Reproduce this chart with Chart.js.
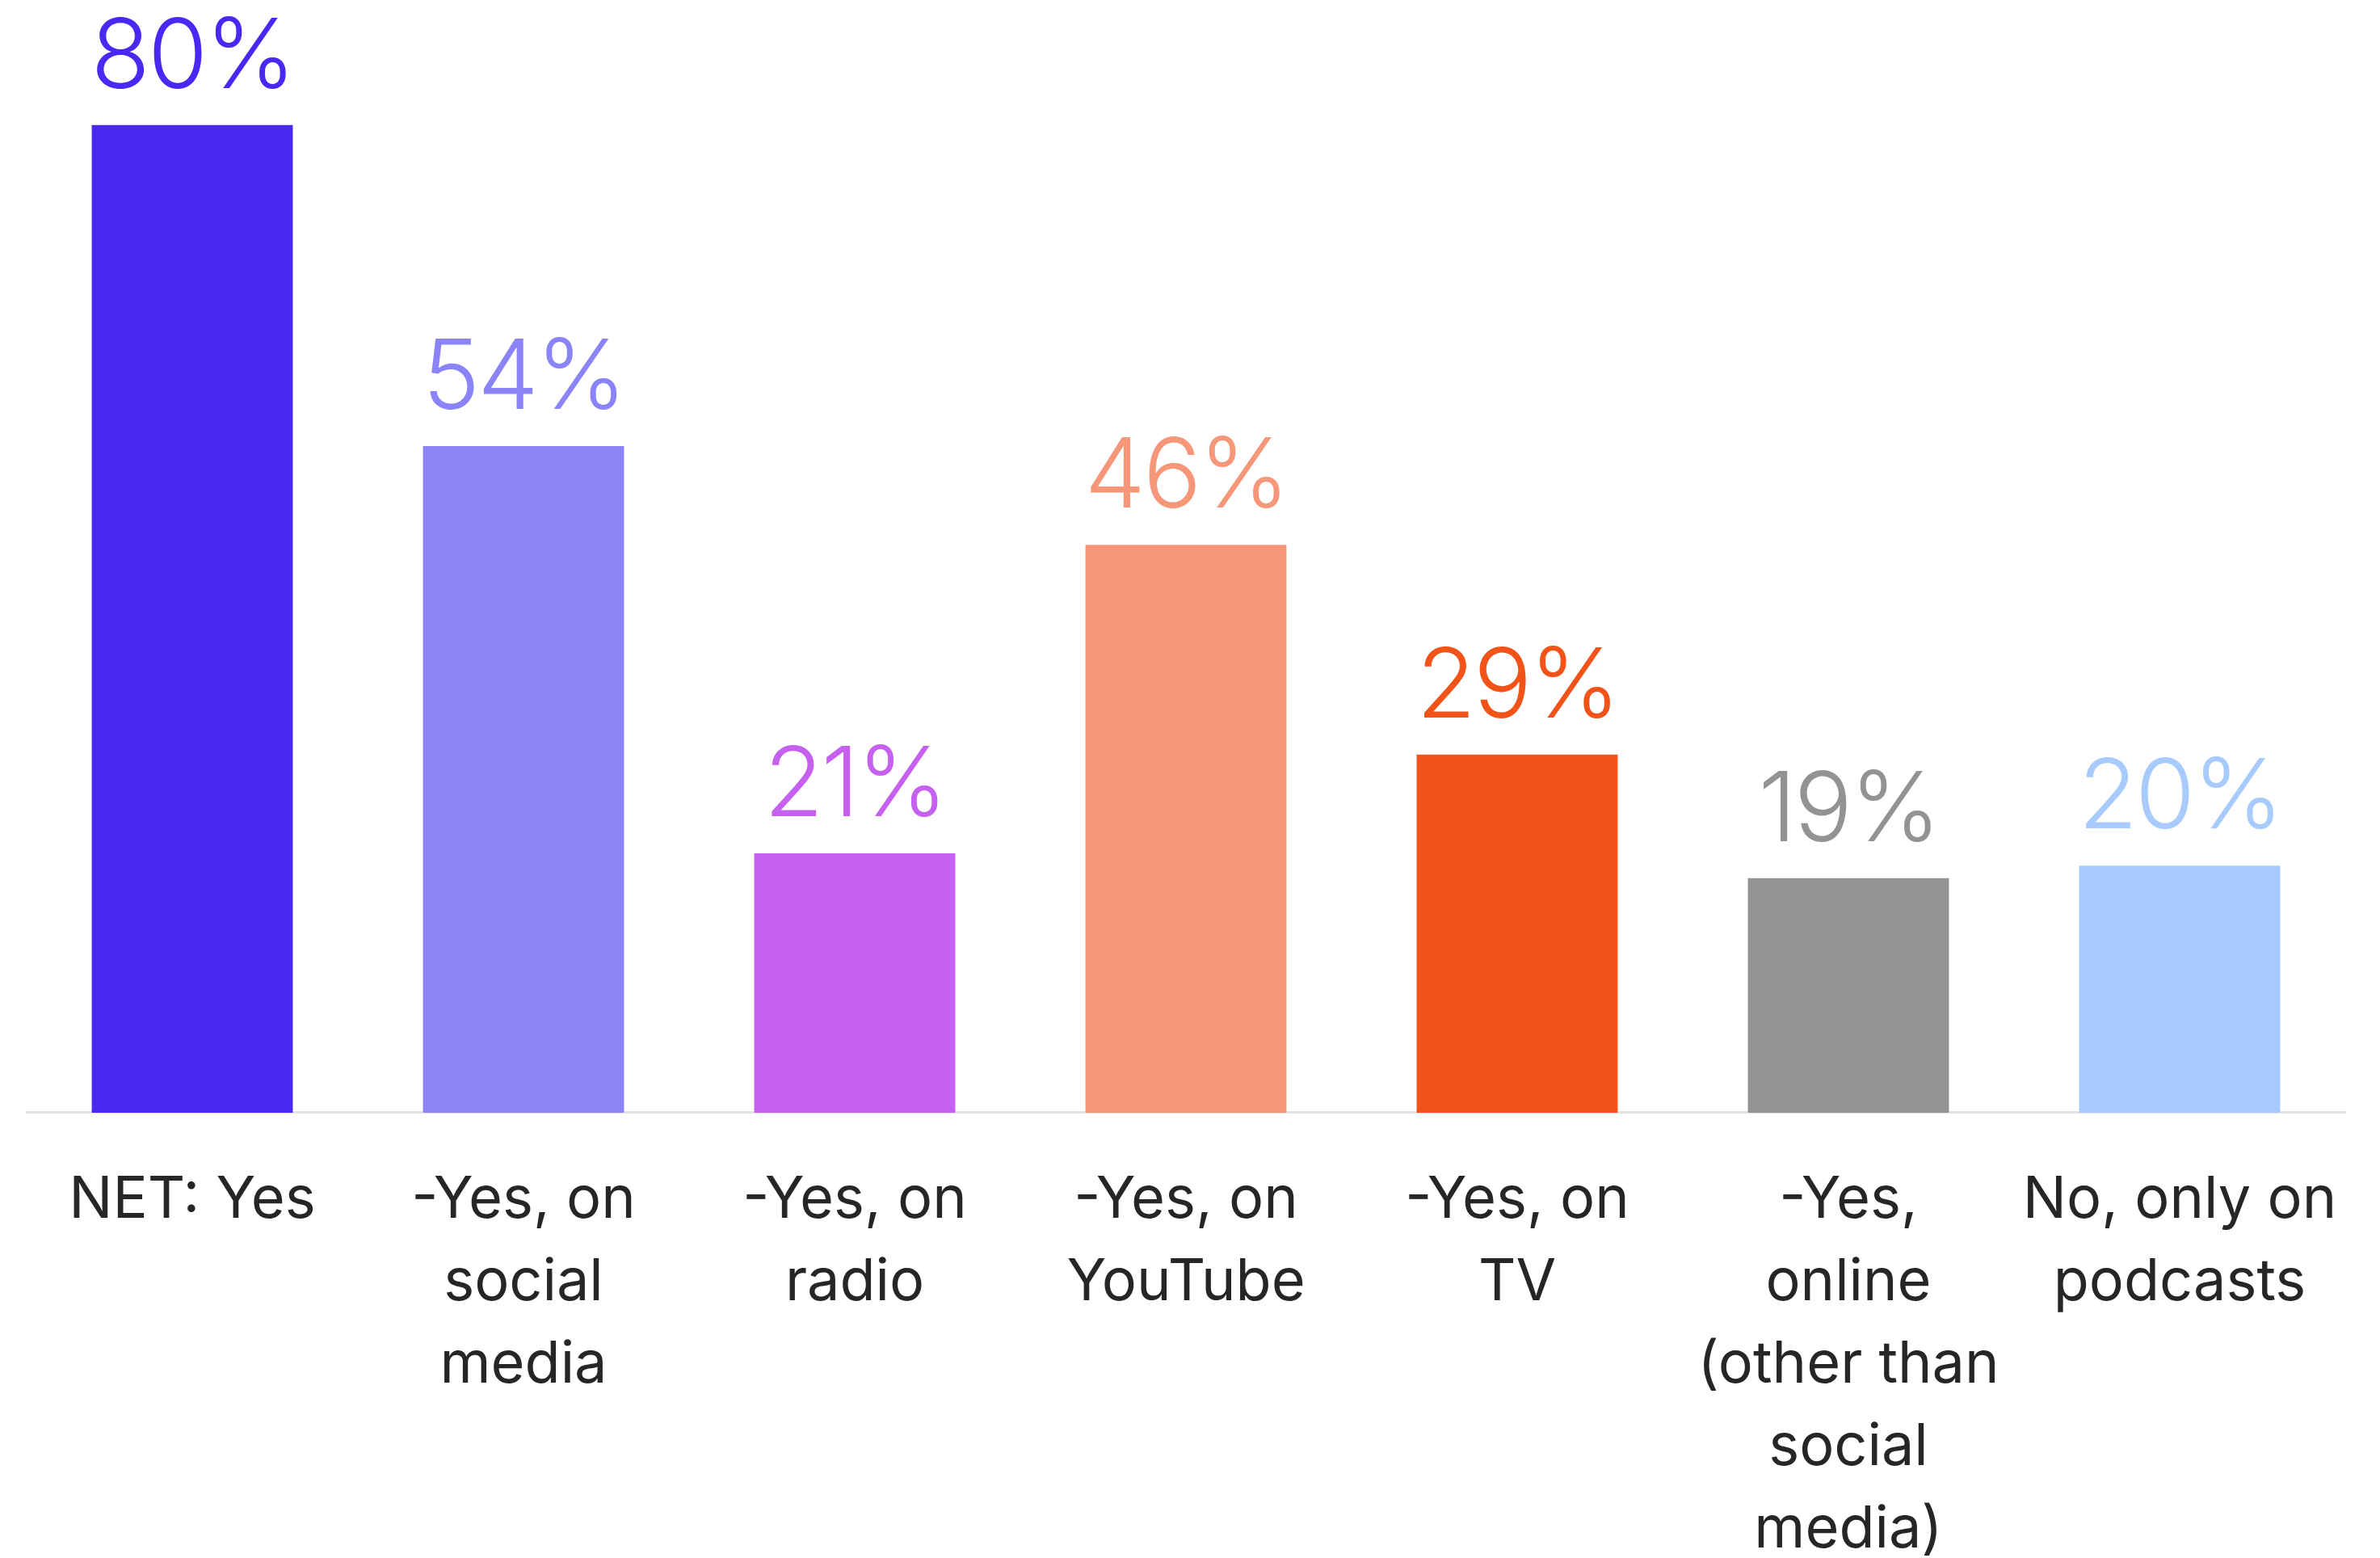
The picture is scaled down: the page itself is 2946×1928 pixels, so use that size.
<!DOCTYPE html>
<html>
<head>
<meta charset="utf-8">
<script src="https://cdn.jsdelivr.net/npm/chart.js@4/dist/chart.umd.min.js"></script>
<style>
  html, body { margin: 0; padding: 0; background: #ffffff; }
  #wrap { width: 2946px; height: 1928px; }
</style>
</head>
<body>
<div id="wrap"><canvas id="c" width="2946" height="1928"></canvas></div>
<script>
// Survey answers: where respondents heard or saw the content
const categories = [
  ["NET: Yes"],
  ["-Yes, on", "social", "media"],
  ["-Yes, on", "radio"],
  ["-Yes, on", "YouTube"],
  ["-Yes, on", "TV"],
  ["-Yes,", "online", "(other than", "social", "media)"],
  ["No, only on", "podcasts"]
];
const shares = [80, 54, 21, 46, 29, 19, 20];
const barColors = ["#4729F2", "#8B84F7", "#C660EE", "#F7977A", "#F25318", "#939393", "#A8CBFE"];

const FONT = "Inter, 'Open Sans', 'DejaVu Sans', sans-serif";

// Percent labels above each bar, tinted like the bar
const valueLabels = {
  id: "valueLabels",
  afterDatasetsDraw(chart) {
    const ctx = chart.ctx;
    const meta = chart.getDatasetMeta(0);
    ctx.save();
    ctx.font = "300 120px " + FONT;
    ctx.letterSpacing = "-3px";
    ctx.textAlign = "center";
    ctx.textBaseline = "alphabetic";
    meta.data.forEach((bar, i) => {
      ctx.fillStyle = barColors[i];
      ctx.fillText(shares[i] + "%", bar.x, bar.y - 46);
    });
    ctx.restore();
  }
};

new Chart(document.getElementById("c"), {
  type: "bar",
  data: {
    labels: categories,
    datasets: [{
      data: shares,
      backgroundColor: barColors,
      borderWidth: 0,
      categoryPercentage: 1,
      barPercentage: 0.607
    }]
  },
  options: {
    responsive: false,
    devicePixelRatio: 1,
    animation: false,
    layout: { padding: { top: 2, left: 33, right: 43, bottom: 0 } },
    plugins: { legend: { display: false }, tooltip: { enabled: false } },
    scales: {
      x: {
        grid: { display: false },
        border: { display: true, color: "#E2E2E2", width: 3 },
        ticks: {
          color: "#262626",
          font: { family: FONT, size: 72, lineHeight: 1.417 },
          padding: 49,
          maxRotation: 0,
          autoSkip: false
        },
        // the five-line label block reaches down to the canvas edge
        afterFit(scale) { scale.height -= 65; }
      },
      y: {
        display: false,
        min: 0,
        max: 90
      }
    }
  },
  plugins: [valueLabels]
});
</script>
</body>
</html>
